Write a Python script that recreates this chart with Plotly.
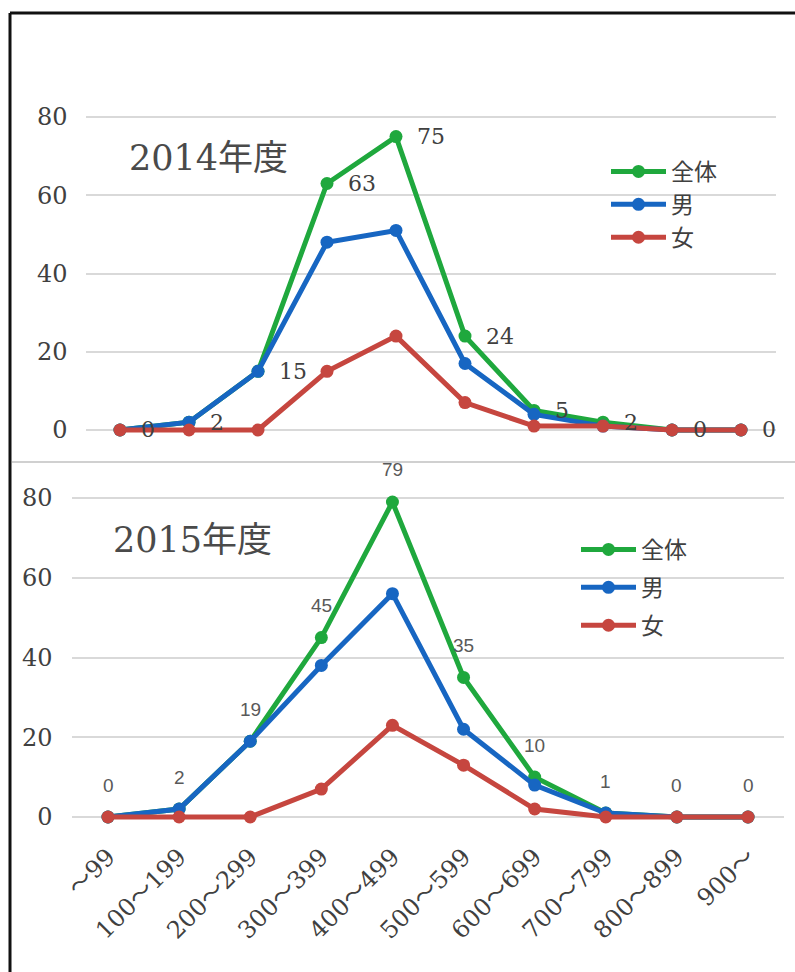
import plotly.graph_objects as go

# ---- data -------------------------------------------------------------
categories = ["～99", "100～199", "200～299", "300～399", "400～499",
              "500～599", "600～699", "700～799", "800～899", "900～"]

series_names = ["全体", "男", "女"]

total_2014 = [0, 2, 15, 63, 75, 24, 5, 2, 0, 0]
male_2014 = [0, 2, 15, 48, 51, 17, 4, 1, 0, 0]
female_2014 = [0, 0, 0, 15, 24, 7, 1, 1, 0, 0]

total_2015 = [0, 2, 19, 45, 79, 35, 10, 1, 0, 0]
male_2015 = [0, 2, 19, 38, 56, 22, 8, 1, 0, 0]
female_2015 = [0, 0, 0, 7, 23, 13, 2, 0, 0, 0]

panel_titles = ["2014年度", "2015年度"]
y_ticks = [0, 20, 40, 60, 80]

# ---- styling ----------------------------------------------------------
W, H = 795, 972
COLORS = ["#1fa83d", "#1766c2", "#c6463f"]
GRID = "#d9d9d9"
TEXT = "#404040"
SERIF = "DejaVu Serif, Noto Sans CJK JP, serif"
SANS = "Noto Sans CJK JP, Liberation Sans, sans-serif"


def px_x(p):
    return p / W


def px_y(p):
    return 1 - p / H


fig = go.Figure()

panels = [
    dict(series=[total_2014, male_2014, female_2014], xa="x", ya="y",
         legend="legend", group="a"),
    dict(series=[total_2015, male_2015, female_2015], xa="x2", ya="y2",
         legend="legend2", group="b"),
]

for panel in panels:
    for i, (name, vals, color) in enumerate(zip(series_names, panel["series"], COLORS)):
        fig.add_trace(go.Scatter(
            x=categories, y=vals, name=name, mode="lines+markers",
            line=dict(color=color, width=5),
            marker=dict(color=color, size=13),
            xaxis=panel["xa"], yaxis=panel["ya"], legend=panel["legend"],
            legendgroup=f"{panel['group']}{i}",
            hoverinfo="skip",
        ))

# value labels for the 全体 series
annotations = []
for cat, v in zip(categories, total_2014):
    annotations.append(dict(
        x=cat, y=v, xref="x", yref="y", text=str(v), showarrow=False,
        xanchor="left", yanchor="middle", xshift=19,
        font=dict(family=SERIF, size=22, color=TEXT),
    ))
for cat, v in zip(categories, total_2015):
    annotations.append(dict(
        x=cat, y=v, xref="x2", yref="y2", text=str(v), showarrow=False,
        xanchor="center", yanchor="middle", yshift=32,
        font=dict(family="Liberation Sans, sans-serif", size=19, color="#595959"),
    ))

# panel titles
annotations.append(dict(
    x=px_x(127), y=px_y(158), xref="paper", yref="paper", text=panel_titles[0],
    showarrow=False, xanchor="left", yanchor="middle",
    font=dict(family=SERIF, size=35, color="#4a4a4a"),
))
annotations.append(dict(
    x=px_x(111), y=px_y(540), xref="paper", yref="paper", text=panel_titles[1],
    showarrow=False, xanchor="left", yanchor="middle",
    font=dict(family=SERIF, size=35, color="#4a4a4a"),
))

# frame and separator
shapes = [
    dict(type="line", xref="paper", yref="paper", x0=px_x(10), x1=1.0,
         y0=px_y(13), y1=px_y(13), line=dict(color="#111111", width=3)),
    dict(type="line", xref="paper", yref="paper", x0=px_x(10), x1=px_x(10),
         y0=px_y(13), y1=0, line=dict(color="#111111", width=3)),
    dict(type="line", xref="paper", yref="paper", x0=px_x(12), x1=1.0,
         y0=px_y(462), y1=px_y(462), line=dict(color="#d0d0d0", width=2)),
]

yrange = [-5, 84]


def ydomain(py0, py80):
    unit = (py0 - py80) / 80
    bottom = py0 - (yrange[0]) * unit
    top = py0 - yrange[1] * unit
    return [px_y(bottom), px_y(top)]


def xdomain(first, last):
    step = (last - first) / 9
    return [px_x(first - step / 2), px_x(last + step / 2)]


axis_common = dict(
    showgrid=True, gridcolor=GRID, gridwidth=2, zeroline=False,
    showline=False, ticks="", fixedrange=True, automargin=False,
)

fig.update_layout(
    width=W, height=H, margin=dict(l=0, r=0, t=0, b=0, autoexpand=False),
    paper_bgcolor="white", plot_bgcolor="white",
    xaxis=dict(domain=xdomain(120, 741), range=[-0.5, 9.5], type="category",
               showgrid=False, zeroline=False, showticklabels=False, ticks="",
               anchor="y", fixedrange=True, automargin=False),
    yaxis=dict(domain=ydomain(430, 117), range=yrange, tickvals=y_ticks,
               tickfont=dict(family=SERIF, size=24, color=TEXT),
               ticklabelstandoff=17, anchor="x", **axis_common),
    xaxis2=dict(domain=xdomain(108, 748), range=[-0.5, 9.5], type="category",
                showgrid=False, zeroline=False, ticks="", tickangle=-45,
                tickfont=dict(family=SERIF, size=24, color=TEXT),
                anchor="y2", fixedrange=True, automargin=False),
    yaxis2=dict(domain=ydomain(817, 498), range=yrange, tickvals=y_ticks,
                tickfont=dict(family=SERIF, size=24, color=TEXT),
                ticklabelstandoff=19, anchor="x2", **axis_common),
    legend=dict(x=px_x(606), y=px_y(150), xanchor="left", yanchor="top",
                bgcolor="rgba(0,0,0,0)", font=dict(family=SANS, size=23, color=TEXT),
                tracegroupgap=0, itemwidth=55),
    legend2=dict(x=px_x(576), y=px_y(528), xanchor="left", yanchor="top",
                 bgcolor="rgba(0,0,0,0)", font=dict(family=SANS, size=23, color=TEXT),
                 tracegroupgap=5, itemwidth=55),
    annotations=annotations,
    shapes=shapes,
    showlegend=True,
)

fig.write_html("out.html")
